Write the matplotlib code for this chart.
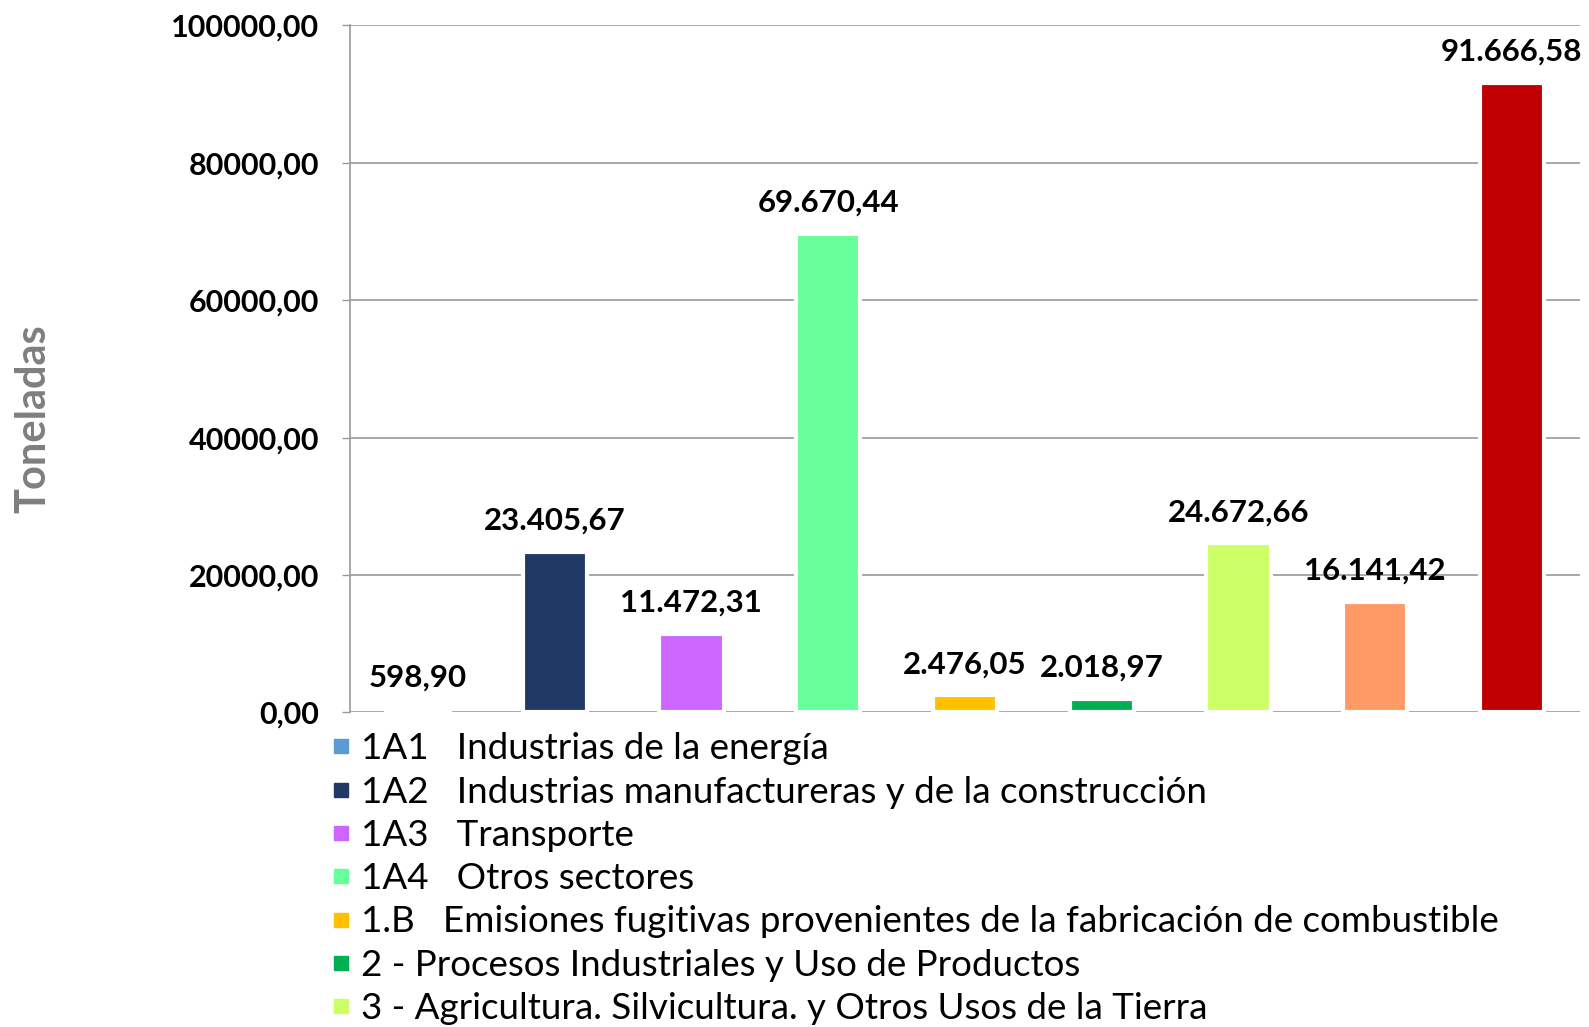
import matplotlib
matplotlib.use("Agg")
import matplotlib.pyplot as plt
import matplotlib.ticker as ticker
from matplotlib.lines import Line2D
import numpy as np

categories = [
    "1A1   Industrias de la energía",
    "1A2   Industrias manufactureras y de la construcción",
    "1A3   Transporte",
    "1A4   Otros sectores",
    "1.B   Emisiones fugitivas provenientes de la fabricación de combustible",
    "2 - Procesos Industriales y Uso de Productos",
    "3 - Agricultura. Silvicultura. y Otros Usos de la Tierra",
    "4 - Residuos",
    "Total",
]
values = [598.90, 23405.67, 11472.31, 69670.44, 2476.05, 2018.97, 24672.66, 16141.42, 91666.58]
colors = ["#5B9BD5", "#1F3864", "#CC66FF", "#66FF99", "#FFC000", "#00B050", "#CCFF66", "#FF9966", "#C00000"]
yticks = [0, 20000, 40000, 60000, 80000, 100000]
n_legend = 7  # only the first 7 entries fit in the figure

plt.rcParams['font.family'] = ['Lato', 'DejaVu Sans']


def es_fmt(v):
    # 23405.67 -> 23.405,67
    s = f"{v:,.2f}"
    return s.replace(",", "X").replace(".", ",").replace("X", ".")


fig = plt.figure(figsize=(15.89, 10.27), dpi=100)
ax = fig.add_axes([0.2200, 0.3063, 0.7745, 0.6690])

x = np.arange(len(values))
bars = ax.bar(x, values, width=0.47, color=colors, edgecolor="white", linewidth=3, zorder=3)

for xi, v in zip(x, values):
    ax.annotate(es_fmt(v), (xi, v), xytext=(0, 12), textcoords="offset points",
                ha="center", va="bottom", fontsize=22.5, fontweight="bold", zorder=4)

ax.set_xlim(-0.5, len(values) - 0.5)
ax.set_ylim(0, 100000)
ax.set_yticks(yticks)
ax.yaxis.set_major_formatter(ticker.FuncFormatter(lambda v, p: f"{v:.2f}".replace(".", ",")))
ax.tick_params(axis="y", labelsize=22, length=6, color="#999999", width=1, pad=16)
for lab in ax.get_yticklabels():
    lab.set_fontweight("bold")
ax.set_xticks([])
ax.grid(axis="y", color="#999999", linewidth=1.2, zorder=0)
ax.set_axisbelow(True)
for s in ["top", "right", "bottom"]:
    ax.spines[s].set_visible(False)
ax.spines["left"].set_color("#999999")
ax.spines["left"].set_linewidth(1.2)

fig.text(0.0210, 0.592, "Toneladas", rotation=90, ha="center", va="center",
         fontsize=30, fontweight="bold", color="#7F7F7F")

handles = [Line2D([], [], marker="s", linestyle="", markersize=10, color=c) for c in colors]
fig.legend(handles[:n_legend], categories[:n_legend], loc="upper left",
           bbox_to_anchor=(0.2085, 0.287), frameon=False, fontsize=26.5,
           handlelength=0.5, handletextpad=0.3, labelspacing=0.28,
           borderaxespad=0, borderpad=0)

fig.savefig("out.png", dpi=100)
